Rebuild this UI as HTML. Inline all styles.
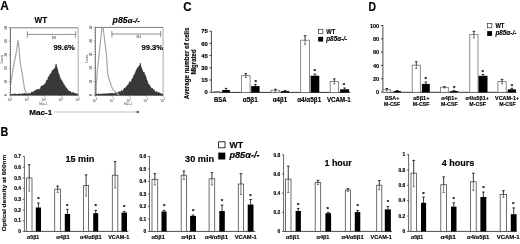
<!DOCTYPE html><html><head><meta charset="utf-8"><style>html,body{margin:0;padding:0;background:#fff;}svg{display:block;}</style></head><body>
<svg width="520" height="244" viewBox="0 0 520 244" font-family='"Liberation Sans", Arial, sans-serif'>
<style>text[font-weight="bold"]{stroke:#000;stroke-width:0.15px;}</style>
<rect width="520" height="244" fill="#fff"/>
<text x="0.2" y="10.4" font-size="12" font-weight="bold" text-anchor="start" fill="#000" textLength="8.6" lengthAdjust="spacingAndGlyphs">A</text>
<text x="183.3" y="10.9" font-size="12" font-weight="bold" text-anchor="start" fill="#000" textLength="8.3" lengthAdjust="spacingAndGlyphs">C</text>
<text x="368.6" y="10.6" font-size="12" font-weight="bold" text-anchor="start" fill="#000" textLength="7.5" lengthAdjust="spacingAndGlyphs">D</text>
<text x="0.6" y="136" font-size="12" font-weight="bold" text-anchor="start" fill="#000" textLength="7.8" lengthAdjust="spacingAndGlyphs">B</text>
<line x1="8.9" y1="95.1" x2="10.5" y2="95.1" stroke="#333" stroke-width="0.6"/>
<line x1="9.5" y1="92.408" x2="10.5" y2="92.408" stroke="#333" stroke-width="0.55"/>
<line x1="9.5" y1="89.716" x2="10.5" y2="89.716" stroke="#333" stroke-width="0.55"/>
<line x1="9.5" y1="87.024" x2="10.5" y2="87.024" stroke="#333" stroke-width="0.55"/>
<line x1="9.5" y1="84.332" x2="10.5" y2="84.332" stroke="#333" stroke-width="0.55"/>
<text x="5.9" y="95.1" font-size="3.2" fill="#333" text-anchor="middle" transform="rotate(-90 5.9 95.1)" dy="1.1">0</text>
<line x1="8.9" y1="81.64" x2="10.5" y2="81.64" stroke="#333" stroke-width="0.6"/>
<line x1="9.5" y1="78.94800000000001" x2="10.5" y2="78.94800000000001" stroke="#333" stroke-width="0.55"/>
<line x1="9.5" y1="76.256" x2="10.5" y2="76.256" stroke="#333" stroke-width="0.55"/>
<line x1="9.5" y1="73.56400000000001" x2="10.5" y2="73.56400000000001" stroke="#333" stroke-width="0.55"/>
<line x1="9.5" y1="70.872" x2="10.5" y2="70.872" stroke="#333" stroke-width="0.55"/>
<text x="5.9" y="81.64" font-size="3.2" fill="#333" text-anchor="middle" transform="rotate(-90 5.9 81.64)" dy="1.1">10</text>
<line x1="8.9" y1="68.17999999999999" x2="10.5" y2="68.17999999999999" stroke="#333" stroke-width="0.6"/>
<line x1="9.5" y1="65.488" x2="10.5" y2="65.488" stroke="#333" stroke-width="0.55"/>
<line x1="9.5" y1="62.79599999999999" x2="10.5" y2="62.79599999999999" stroke="#333" stroke-width="0.55"/>
<line x1="9.5" y1="60.10399999999999" x2="10.5" y2="60.10399999999999" stroke="#333" stroke-width="0.55"/>
<line x1="9.5" y1="57.41199999999999" x2="10.5" y2="57.41199999999999" stroke="#333" stroke-width="0.55"/>
<text x="5.9" y="68.17999999999999" font-size="3.2" fill="#333" text-anchor="middle" transform="rotate(-90 5.9 68.17999999999999)" dy="1.1">20</text>
<line x1="8.9" y1="54.72" x2="10.5" y2="54.72" stroke="#333" stroke-width="0.6"/>
<line x1="9.5" y1="52.028" x2="10.5" y2="52.028" stroke="#333" stroke-width="0.55"/>
<line x1="9.5" y1="49.336" x2="10.5" y2="49.336" stroke="#333" stroke-width="0.55"/>
<line x1="9.5" y1="46.644" x2="10.5" y2="46.644" stroke="#333" stroke-width="0.55"/>
<line x1="9.5" y1="43.952" x2="10.5" y2="43.952" stroke="#333" stroke-width="0.55"/>
<text x="5.9" y="54.72" font-size="3.2" fill="#333" text-anchor="middle" transform="rotate(-90 5.9 54.72)" dy="1.1">30</text>
<line x1="8.9" y1="41.26" x2="10.5" y2="41.26" stroke="#333" stroke-width="0.6"/>
<line x1="9.5" y1="38.568" x2="10.5" y2="38.568" stroke="#333" stroke-width="0.55"/>
<line x1="9.5" y1="35.876" x2="10.5" y2="35.876" stroke="#333" stroke-width="0.55"/>
<line x1="9.5" y1="33.184" x2="10.5" y2="33.184" stroke="#333" stroke-width="0.55"/>
<line x1="9.5" y1="30.491999999999997" x2="10.5" y2="30.491999999999997" stroke="#333" stroke-width="0.55"/>
<text x="5.9" y="41.26" font-size="3.2" fill="#333" text-anchor="middle" transform="rotate(-90 5.9 41.26)" dy="1.1">40</text>
<line x1="8.9" y1="27.799999999999997" x2="10.5" y2="27.799999999999997" stroke="#333" stroke-width="0.6"/>
<text x="5.9" y="27.799999999999997" font-size="3.2" fill="#333" text-anchor="middle" transform="rotate(-90 5.9 27.799999999999997)" dy="1.1">50</text>
<text x="1.9000000000000004" y="59.3" font-size="3.4" fill="#444" text-anchor="middle" transform="rotate(-90 1.9000000000000004 59.3)" dy="1.1" textLength="8.6" lengthAdjust="spacingAndGlyphs">Counts</text>
<line x1="10.5" y1="95.1" x2="10.5" y2="96.69999999999999" stroke="#444" stroke-width="0.5"/>
<line x1="15.594932676612881" y1="95.1" x2="15.594932676612881" y2="95.89999999999999" stroke="#444" stroke-width="0.35"/>
<line x1="18.575277236130287" y1="95.1" x2="18.575277236130287" y2="95.89999999999999" stroke="#444" stroke-width="0.35"/>
<line x1="20.689865353225763" y1="95.1" x2="20.689865353225763" y2="95.89999999999999" stroke="#444" stroke-width="0.35"/>
<line x1="22.33006732338712" y1="95.1" x2="22.33006732338712" y2="95.89999999999999" stroke="#444" stroke-width="0.35"/>
<line x1="23.670209912743168" y1="95.1" x2="23.670209912743168" y2="95.89999999999999" stroke="#444" stroke-width="0.35"/>
<line x1="24.803284327241297" y1="95.1" x2="24.803284327241297" y2="95.89999999999999" stroke="#444" stroke-width="0.35"/>
<line x1="25.784798029838647" y1="95.1" x2="25.784798029838647" y2="95.89999999999999" stroke="#444" stroke-width="0.35"/>
<line x1="26.650554472260573" y1="95.1" x2="26.650554472260573" y2="95.89999999999999" stroke="#444" stroke-width="0.35"/>
<text x="9.9" y="101.39999999999999" font-size="4.0" fill="#333" text-anchor="middle" textLength="4.6" lengthAdjust="spacingAndGlyphs">10<tspan font-size="2.6" dy="-1.8">0</tspan></text>
<line x1="27.425" y1="95.1" x2="27.425" y2="96.69999999999999" stroke="#444" stroke-width="0.5"/>
<line x1="32.51993267661288" y1="95.1" x2="32.51993267661288" y2="95.89999999999999" stroke="#444" stroke-width="0.35"/>
<line x1="35.50027723613029" y1="95.1" x2="35.50027723613029" y2="95.89999999999999" stroke="#444" stroke-width="0.35"/>
<line x1="37.61486535322577" y1="95.1" x2="37.61486535322577" y2="95.89999999999999" stroke="#444" stroke-width="0.35"/>
<line x1="39.255067323387124" y1="95.1" x2="39.255067323387124" y2="95.89999999999999" stroke="#444" stroke-width="0.35"/>
<line x1="40.59520991274317" y1="95.1" x2="40.59520991274317" y2="95.89999999999999" stroke="#444" stroke-width="0.35"/>
<line x1="41.7282843272413" y1="95.1" x2="41.7282843272413" y2="95.89999999999999" stroke="#444" stroke-width="0.35"/>
<line x1="42.709798029838645" y1="95.1" x2="42.709798029838645" y2="95.89999999999999" stroke="#444" stroke-width="0.35"/>
<line x1="43.57555447226058" y1="95.1" x2="43.57555447226058" y2="95.89999999999999" stroke="#444" stroke-width="0.35"/>
<text x="26.825" y="101.39999999999999" font-size="4.0" fill="#333" text-anchor="middle" textLength="4.6" lengthAdjust="spacingAndGlyphs">10<tspan font-size="2.6" dy="-1.8">1</tspan></text>
<line x1="44.35" y1="95.1" x2="44.35" y2="96.69999999999999" stroke="#444" stroke-width="0.5"/>
<line x1="49.444932676612886" y1="95.1" x2="49.444932676612886" y2="95.89999999999999" stroke="#444" stroke-width="0.35"/>
<line x1="52.425277236130285" y1="95.1" x2="52.425277236130285" y2="95.89999999999999" stroke="#444" stroke-width="0.35"/>
<line x1="54.539865353225764" y1="95.1" x2="54.539865353225764" y2="95.89999999999999" stroke="#444" stroke-width="0.35"/>
<line x1="56.18006732338712" y1="95.1" x2="56.18006732338712" y2="95.89999999999999" stroke="#444" stroke-width="0.35"/>
<line x1="57.52020991274317" y1="95.1" x2="57.52020991274317" y2="95.89999999999999" stroke="#444" stroke-width="0.35"/>
<line x1="58.653284327241295" y1="95.1" x2="58.653284327241295" y2="95.89999999999999" stroke="#444" stroke-width="0.35"/>
<line x1="59.63479802983865" y1="95.1" x2="59.63479802983865" y2="95.89999999999999" stroke="#444" stroke-width="0.35"/>
<line x1="60.500554472260575" y1="95.1" x2="60.500554472260575" y2="95.89999999999999" stroke="#444" stroke-width="0.35"/>
<text x="43.75" y="101.39999999999999" font-size="4.0" fill="#333" text-anchor="middle" textLength="4.6" lengthAdjust="spacingAndGlyphs">10<tspan font-size="2.6" dy="-1.8">2</tspan></text>
<line x1="61.275000000000006" y1="95.1" x2="61.275000000000006" y2="96.69999999999999" stroke="#444" stroke-width="0.5"/>
<line x1="66.36993267661289" y1="95.1" x2="66.36993267661289" y2="95.89999999999999" stroke="#444" stroke-width="0.35"/>
<line x1="69.3502772361303" y1="95.1" x2="69.3502772361303" y2="95.89999999999999" stroke="#444" stroke-width="0.35"/>
<line x1="71.46486535322578" y1="95.1" x2="71.46486535322578" y2="95.89999999999999" stroke="#444" stroke-width="0.35"/>
<line x1="73.10506732338712" y1="95.1" x2="73.10506732338712" y2="95.89999999999999" stroke="#444" stroke-width="0.35"/>
<line x1="74.44520991274318" y1="95.1" x2="74.44520991274318" y2="95.89999999999999" stroke="#444" stroke-width="0.35"/>
<line x1="75.5782843272413" y1="95.1" x2="75.5782843272413" y2="95.89999999999999" stroke="#444" stroke-width="0.35"/>
<line x1="76.55979802983865" y1="95.1" x2="76.55979802983865" y2="95.89999999999999" stroke="#444" stroke-width="0.35"/>
<line x1="77.42555447226059" y1="95.1" x2="77.42555447226059" y2="95.89999999999999" stroke="#444" stroke-width="0.35"/>
<text x="60.675000000000004" y="101.39999999999999" font-size="4.0" fill="#333" text-anchor="middle" textLength="4.6" lengthAdjust="spacingAndGlyphs">10<tspan font-size="2.6" dy="-1.8">3</tspan></text>
<line x1="78.2" y1="95.1" x2="78.2" y2="96.69999999999999" stroke="#444" stroke-width="0.5"/>
<text x="77.60000000000001" y="101.39999999999999" font-size="4.0" fill="#333" text-anchor="middle" textLength="4.6" lengthAdjust="spacingAndGlyphs">10<tspan font-size="2.6" dy="-1.8">4</tspan></text>
<text x="43.35" y="104.89999999999999" font-size="3.2" fill="#444" text-anchor="middle" textLength="8.4" lengthAdjust="spacingAndGlyphs">Mac-1</text>
<polyline points="10.8,84 11.2,80 11.7,77.3 12.6,72.4 13.9,64.2 15.6,56 16.3,52 17.1,47.7 17.5,43.5 18,40 18.5,44 19.1,47.7 19.6,56 20.4,64 22,72.4 23.2,80 24.4,88 26,92.5 28,94.8" fill="none" stroke="#a8a8a8" stroke-width="1.25"/>
<polygon points="11.0,95.0 11.0,94.26 11.55,94.51 12.1,94.32 12.65,94.51 13.2,94.5 13.75,93.92 14.3,93.83 14.85,94.63 15.4,94.01 15.95,93.95 16.5,94.7 17.05,94.13 17.6,94.49 18.15,94.08 18.7,94.22 19.25,93.66 19.8,94.16 20.35,94.4 20.9,93.98 21.45,94.2 22.0,94.1 22.55,93.36 23.1,94.15 23.65,93.93 24.2,93.55 24.75,93.19 25.3,94.18 25.85,93.67 26.4,93.95 26.95,94.13 27.5,93.9 28.05,94.13 28.6,93.37 29.15,93.84 29.7,93.27 30.25,93.88 30.8,93.71 31.35,92.27 31.9,92.04 32.45,91.89 33.0,93.01 33.55,91.72 34.1,91.77 34.65,90.71 35.2,90.83 35.75,90.19 36.3,89.68 36.85,89.82 37.4,89.52 37.95,90.03 38.5,89.24 39.05,89.58 39.6,89.15 40.15,89.03 40.7,87.71 41.25,85.94 41.8,86.54 42.35,85.47 42.9,85.87 43.45,85.62 44.0,85.51 44.55,83.76 45.1,84.65 45.65,83.25 46.2,81.77 46.75,80.01 47.3,80.43 47.85,79.48 48.4,76.58 48.95,77.55 49.5,75.82 50.05,74.35 50.6,73.73 51.15,73.34 51.7,72.76 52.25,70.52 52.8,71.43 53.35,69.43 53.9,70.36 54.45,68.55 55.0,68.46 55.55,66.37 56.1,64.1 56.65,67.05 57.2,68.04 57.75,70.32 58.3,73.45 58.85,73.77 59.4,75.59 59.95,77.48 60.5,79.27 61.05,79.44 61.6,79.9 62.15,82.62 62.7,81.81 63.25,83.86 63.8,84.81 64.35,84.87 64.9,86.14 65.45,86.91 66.0,87.85 66.55,88.22 67.1,88.69 67.65,89.66 68.2,91.26 68.75,90.79 69.3,91.06 69.85,92.1 70.4,91.54 70.95,91.87 71.5,93.27 72.05,92.67 72.6,92.91 73.15,92.29 73.7,93.11 74.25,93.51 74.8,92.93 75.35,93.85 75.9,94.02 76.45,93.53 77.0,94.33 77.55,94.35 78.0,95.0" fill="#383838" stroke="#1e1e1e" stroke-width="0.6" stroke-linejoin="round"/>
<line x1="78.2" y1="27.8" x2="78.2" y2="95.1" stroke="#888" stroke-width="0.7"/>
<path d="M78.2,27.8 H10.5 V95.1 H78.2" fill="none" stroke="#444" stroke-width="0.7"/>
<line x1="27.4" y1="34.4" x2="75.7" y2="34.4" stroke="#444" stroke-width="0.6"/>
<line x1="27.4" y1="31.2" x2="27.4" y2="37.6" stroke="#444" stroke-width="0.6"/>
<line x1="75.7" y1="31.2" x2="75.7" y2="37.6" stroke="#444" stroke-width="0.6"/>
<text x="51.849999999999994" y="38.6" font-size="3.6" fill="#333" textLength="4.8" lengthAdjust="spacingAndGlyphs">M1</text>
<text x="53.4" y="50.2" font-size="7.8" font-weight="bold" text-anchor="start" fill="#000" textLength="21.4" lengthAdjust="spacingAndGlyphs">99.6%</text>
<text x="34.6" y="23.0" font-size="9.4" font-weight="bold" text-anchor="start" fill="#000" textLength="12.6" lengthAdjust="spacingAndGlyphs">WT</text>
<line x1="93.80000000000001" y1="95.2" x2="95.4" y2="95.2" stroke="#333" stroke-width="0.6"/>
<line x1="94.4" y1="92.488" x2="95.4" y2="92.488" stroke="#333" stroke-width="0.55"/>
<line x1="94.4" y1="89.776" x2="95.4" y2="89.776" stroke="#333" stroke-width="0.55"/>
<line x1="94.4" y1="87.06400000000001" x2="95.4" y2="87.06400000000001" stroke="#333" stroke-width="0.55"/>
<line x1="94.4" y1="84.352" x2="95.4" y2="84.352" stroke="#333" stroke-width="0.55"/>
<text x="90.80000000000001" y="95.2" font-size="3.2" fill="#333" text-anchor="middle" transform="rotate(-90 90.80000000000001 95.2)" dy="1.1">0</text>
<line x1="93.80000000000001" y1="81.64" x2="95.4" y2="81.64" stroke="#333" stroke-width="0.6"/>
<line x1="94.4" y1="78.928" x2="95.4" y2="78.928" stroke="#333" stroke-width="0.55"/>
<line x1="94.4" y1="76.216" x2="95.4" y2="76.216" stroke="#333" stroke-width="0.55"/>
<line x1="94.4" y1="73.504" x2="95.4" y2="73.504" stroke="#333" stroke-width="0.55"/>
<line x1="94.4" y1="70.792" x2="95.4" y2="70.792" stroke="#333" stroke-width="0.55"/>
<text x="90.80000000000001" y="81.64" font-size="3.2" fill="#333" text-anchor="middle" transform="rotate(-90 90.80000000000001 81.64)" dy="1.1">10</text>
<line x1="93.80000000000001" y1="68.08" x2="95.4" y2="68.08" stroke="#333" stroke-width="0.6"/>
<line x1="94.4" y1="65.368" x2="95.4" y2="65.368" stroke="#333" stroke-width="0.55"/>
<line x1="94.4" y1="62.656" x2="95.4" y2="62.656" stroke="#333" stroke-width="0.55"/>
<line x1="94.4" y1="59.943999999999996" x2="95.4" y2="59.943999999999996" stroke="#333" stroke-width="0.55"/>
<line x1="94.4" y1="57.232" x2="95.4" y2="57.232" stroke="#333" stroke-width="0.55"/>
<text x="90.80000000000001" y="68.08" font-size="3.2" fill="#333" text-anchor="middle" transform="rotate(-90 90.80000000000001 68.08)" dy="1.1">20</text>
<line x1="93.80000000000001" y1="54.519999999999996" x2="95.4" y2="54.519999999999996" stroke="#333" stroke-width="0.6"/>
<line x1="94.4" y1="51.80799999999999" x2="95.4" y2="51.80799999999999" stroke="#333" stroke-width="0.55"/>
<line x1="94.4" y1="49.096" x2="95.4" y2="49.096" stroke="#333" stroke-width="0.55"/>
<line x1="94.4" y1="46.38399999999999" x2="95.4" y2="46.38399999999999" stroke="#333" stroke-width="0.55"/>
<line x1="94.4" y1="43.672" x2="95.4" y2="43.672" stroke="#333" stroke-width="0.55"/>
<text x="90.80000000000001" y="54.519999999999996" font-size="3.2" fill="#333" text-anchor="middle" transform="rotate(-90 90.80000000000001 54.519999999999996)" dy="1.1">30</text>
<line x1="93.80000000000001" y1="40.959999999999994" x2="95.4" y2="40.959999999999994" stroke="#333" stroke-width="0.6"/>
<line x1="94.4" y1="38.24799999999999" x2="95.4" y2="38.24799999999999" stroke="#333" stroke-width="0.55"/>
<line x1="94.4" y1="35.535999999999994" x2="95.4" y2="35.535999999999994" stroke="#333" stroke-width="0.55"/>
<line x1="94.4" y1="32.82399999999999" x2="95.4" y2="32.82399999999999" stroke="#333" stroke-width="0.55"/>
<line x1="94.4" y1="30.11199999999999" x2="95.4" y2="30.11199999999999" stroke="#333" stroke-width="0.55"/>
<text x="90.80000000000001" y="40.959999999999994" font-size="3.2" fill="#333" text-anchor="middle" transform="rotate(-90 90.80000000000001 40.959999999999994)" dy="1.1">40</text>
<line x1="93.80000000000001" y1="27.39999999999999" x2="95.4" y2="27.39999999999999" stroke="#333" stroke-width="0.6"/>
<text x="90.80000000000001" y="27.39999999999999" font-size="3.2" fill="#333" text-anchor="middle" transform="rotate(-90 90.80000000000001 27.39999999999999)" dy="1.1">50</text>
<text x="86.80000000000001" y="58.9" font-size="3.4" fill="#444" text-anchor="middle" transform="rotate(-90 86.80000000000001 58.9)" dy="1.1" textLength="8.6" lengthAdjust="spacingAndGlyphs">Counts</text>
<line x1="95.4" y1="95.2" x2="95.4" y2="96.8" stroke="#444" stroke-width="0.5"/>
<line x1="100.49493267661289" y1="95.2" x2="100.49493267661289" y2="96.0" stroke="#444" stroke-width="0.35"/>
<line x1="103.4752772361303" y1="95.2" x2="103.4752772361303" y2="96.0" stroke="#444" stroke-width="0.35"/>
<line x1="105.58986535322578" y1="95.2" x2="105.58986535322578" y2="96.0" stroke="#444" stroke-width="0.35"/>
<line x1="107.23006732338712" y1="95.2" x2="107.23006732338712" y2="96.0" stroke="#444" stroke-width="0.35"/>
<line x1="108.57020991274317" y1="95.2" x2="108.57020991274317" y2="96.0" stroke="#444" stroke-width="0.35"/>
<line x1="109.7032843272413" y1="95.2" x2="109.7032843272413" y2="96.0" stroke="#444" stroke-width="0.35"/>
<line x1="110.68479802983865" y1="95.2" x2="110.68479802983865" y2="96.0" stroke="#444" stroke-width="0.35"/>
<line x1="111.55055447226057" y1="95.2" x2="111.55055447226057" y2="96.0" stroke="#444" stroke-width="0.35"/>
<text x="94.80000000000001" y="101.5" font-size="4.0" fill="#333" text-anchor="middle" textLength="4.6" lengthAdjust="spacingAndGlyphs">10<tspan font-size="2.6" dy="-1.8">0</tspan></text>
<line x1="112.325" y1="95.2" x2="112.325" y2="96.8" stroke="#444" stroke-width="0.5"/>
<line x1="117.41993267661289" y1="95.2" x2="117.41993267661289" y2="96.0" stroke="#444" stroke-width="0.35"/>
<line x1="120.4002772361303" y1="95.2" x2="120.4002772361303" y2="96.0" stroke="#444" stroke-width="0.35"/>
<line x1="122.51486535322576" y1="95.2" x2="122.51486535322576" y2="96.0" stroke="#444" stroke-width="0.35"/>
<line x1="124.15506732338712" y1="95.2" x2="124.15506732338712" y2="96.0" stroke="#444" stroke-width="0.35"/>
<line x1="125.49520991274316" y1="95.2" x2="125.49520991274316" y2="96.0" stroke="#444" stroke-width="0.35"/>
<line x1="126.62828432724129" y1="95.2" x2="126.62828432724129" y2="96.0" stroke="#444" stroke-width="0.35"/>
<line x1="127.60979802983864" y1="95.2" x2="127.60979802983864" y2="96.0" stroke="#444" stroke-width="0.35"/>
<line x1="128.47555447226057" y1="95.2" x2="128.47555447226057" y2="96.0" stroke="#444" stroke-width="0.35"/>
<text x="111.72500000000001" y="101.5" font-size="4.0" fill="#333" text-anchor="middle" textLength="4.6" lengthAdjust="spacingAndGlyphs">10<tspan font-size="2.6" dy="-1.8">1</tspan></text>
<line x1="129.25" y1="95.2" x2="129.25" y2="96.8" stroke="#444" stroke-width="0.5"/>
<line x1="134.34493267661287" y1="95.2" x2="134.34493267661287" y2="96.0" stroke="#444" stroke-width="0.35"/>
<line x1="137.3252772361303" y1="95.2" x2="137.3252772361303" y2="96.0" stroke="#444" stroke-width="0.35"/>
<line x1="139.43986535322577" y1="95.2" x2="139.43986535322577" y2="96.0" stroke="#444" stroke-width="0.35"/>
<line x1="141.0800673233871" y1="95.2" x2="141.0800673233871" y2="96.0" stroke="#444" stroke-width="0.35"/>
<line x1="142.42020991274316" y1="95.2" x2="142.42020991274316" y2="96.0" stroke="#444" stroke-width="0.35"/>
<line x1="143.5532843272413" y1="95.2" x2="143.5532843272413" y2="96.0" stroke="#444" stroke-width="0.35"/>
<line x1="144.53479802983864" y1="95.2" x2="144.53479802983864" y2="96.0" stroke="#444" stroke-width="0.35"/>
<line x1="145.40055447226058" y1="95.2" x2="145.40055447226058" y2="96.0" stroke="#444" stroke-width="0.35"/>
<text x="128.65" y="101.5" font-size="4.0" fill="#333" text-anchor="middle" textLength="4.6" lengthAdjust="spacingAndGlyphs">10<tspan font-size="2.6" dy="-1.8">2</tspan></text>
<line x1="146.175" y1="95.2" x2="146.175" y2="96.8" stroke="#444" stroke-width="0.5"/>
<line x1="151.26993267661288" y1="95.2" x2="151.26993267661288" y2="96.0" stroke="#444" stroke-width="0.35"/>
<line x1="154.2502772361303" y1="95.2" x2="154.2502772361303" y2="96.0" stroke="#444" stroke-width="0.35"/>
<line x1="156.36486535322578" y1="95.2" x2="156.36486535322578" y2="96.0" stroke="#444" stroke-width="0.35"/>
<line x1="158.00506732338712" y1="95.2" x2="158.00506732338712" y2="96.0" stroke="#444" stroke-width="0.35"/>
<line x1="159.34520991274317" y1="95.2" x2="159.34520991274317" y2="96.0" stroke="#444" stroke-width="0.35"/>
<line x1="160.4782843272413" y1="95.2" x2="160.4782843272413" y2="96.0" stroke="#444" stroke-width="0.35"/>
<line x1="161.45979802983865" y1="95.2" x2="161.45979802983865" y2="96.0" stroke="#444" stroke-width="0.35"/>
<line x1="162.3255544722606" y1="95.2" x2="162.3255544722606" y2="96.0" stroke="#444" stroke-width="0.35"/>
<text x="145.57500000000002" y="101.5" font-size="4.0" fill="#333" text-anchor="middle" textLength="4.6" lengthAdjust="spacingAndGlyphs">10<tspan font-size="2.6" dy="-1.8">3</tspan></text>
<line x1="163.1" y1="95.2" x2="163.1" y2="96.8" stroke="#444" stroke-width="0.5"/>
<text x="162.5" y="101.5" font-size="4.0" fill="#333" text-anchor="middle" textLength="4.6" lengthAdjust="spacingAndGlyphs">10<tspan font-size="2.6" dy="-1.8">4</tspan></text>
<text x="128.25" y="105.0" font-size="3.2" fill="#444" text-anchor="middle" textLength="8.4" lengthAdjust="spacingAndGlyphs">Mac-1</text>
<polyline points="96.1,95 96.3,85 97,75 97.6,68 98.4,62 99.3,52 100.4,42 101.3,34 102.1,27.4" fill="none" stroke="#a8a8a8" stroke-width="1.25"/>
<polygon points="95.8,95.1 95.8,94.58 96.35,94.24 96.9,94.57 97.45,94.58 98.0,93.82 98.55,93.83 99.1,94.45 99.65,94.73 100.2,93.95 100.75,94.14 101.3,94.27 101.85,93.94 102.4,93.96 102.95,93.88 103.5,93.92 104.05,94.15 104.6,93.79 105.15,93.85 105.7,94.28 106.25,93.37 106.8,93.98 107.35,94.15 107.9,93.6 108.45,93.46 109.0,94.15 109.55,93.41 110.1,93.31 110.65,93.59 111.2,93.9 111.75,93.09 112.3,93.33 112.85,93.29 113.4,93.92 113.95,93.32 114.5,93.85 115.05,92.81 115.6,92.93 116.15,93.29 116.7,93.55 117.25,92.74 117.8,92.24 118.35,91.92 118.9,92.4 119.45,91.52 120.0,92.49 120.55,92.36 121.1,90.72 121.65,90.65 122.2,91.47 122.75,90.65 123.3,90.62 123.85,89.09 124.4,88.15 124.95,88.12 125.5,88.91 126.05,86.98 126.6,86.49 127.15,85.98 127.7,85.14 128.25,84.2 128.8,84.71 129.35,82.32 129.9,81.41 130.45,83.11 131.0,81.91 131.55,81.07 132.1,78.66 132.65,78.88 133.2,77.81 133.75,75.1 134.3,75.23 134.85,74.24 135.4,72.61 135.95,71.3 136.5,69.83 137.05,69.05 137.6,68.05 138.15,66.93 138.7,67.35 139.25,65.63 139.8,65.92 140.35,63.19 140.9,66.67 141.45,67.81 142.0,69.52 142.55,70.58 143.1,71.96 143.65,72.56 144.2,72.41 144.75,75.35 145.3,75.25 145.85,76.92 146.4,79.14 146.95,80.34 147.5,81.64 148.05,84.17 148.6,84.29 149.15,84.54 149.7,85.18 150.25,87.38 150.8,87.2 151.35,88.68 151.9,88.2 152.45,88.33 153.0,89.63 153.55,90.79 154.1,89.6 154.65,91.45 155.2,92.08 155.75,92.12 156.3,92.44 156.85,91.17 157.4,92.67 157.95,93.29 158.5,92.18 159.05,92.77 159.6,93.01 160.15,93.58 160.7,93.61 161.25,93.84 161.8,94.36 162.35,93.67 162.9,95.1" fill="#383838" stroke="#1e1e1e" stroke-width="0.6" stroke-linejoin="round"/>
<line x1="163.1" y1="27.4" x2="163.1" y2="95.2" stroke="#888" stroke-width="0.7"/>
<path d="M163.1,27.4 H95.4 V95.2 H163.1" fill="none" stroke="#444" stroke-width="0.7"/>
<line x1="111.9" y1="34.0" x2="160.7" y2="34.0" stroke="#444" stroke-width="0.6"/>
<line x1="111.9" y1="30.8" x2="111.9" y2="37.2" stroke="#444" stroke-width="0.6"/>
<line x1="160.7" y1="30.8" x2="160.7" y2="37.2" stroke="#444" stroke-width="0.6"/>
<text x="136.60000000000002" y="38.2" font-size="3.6" fill="#333" textLength="4.8" lengthAdjust="spacingAndGlyphs">M1</text>
<text x="141.5" y="49.8" font-size="7.8" font-weight="bold" text-anchor="start" fill="#000" textLength="21.4" lengthAdjust="spacingAndGlyphs">99.3%</text>
<polyline points="103.1,27.4 104,35 105.2,45 106.2,52 106.8,60 107.4,70 108.1,76 109.7,81 111.4,86 112.6,89 115,91.6 117.1,93.2 119,95" fill="none" stroke="#a8a8a8" stroke-width="1.25"/>
<text x="112.6" y="22.9" font-size="9" font-weight="bold" font-style="italic" fill="#000" textLength="27.2" lengthAdjust="spacingAndGlyphs">p85<tspan font-size="8">α-/-</tspan></text>
<text x="29.2" y="115.2" font-size="7.8" font-weight="bold" text-anchor="start" fill="#000" textLength="23" lengthAdjust="spacingAndGlyphs">Mac-1</text>
<line x1="54.6" y1="112" x2="137.5" y2="112" stroke="#888" stroke-width="0.55"/>
<polygon points="136.8,110.8 139.8,112 136.8,113.2" fill="#222"/>
<line x1="211.4" y1="30.9" x2="211.4" y2="92.2" stroke="#000" stroke-width="0.7"/>
<line x1="209.4" y1="92.2" x2="211.4" y2="92.2" stroke="#000" stroke-width="0.7"/>
<text x="207.8" y="94.36" font-size="6.0" font-weight="bold" text-anchor="end" fill="#000" textLength="3.3" lengthAdjust="spacingAndGlyphs">0</text>
<line x1="209.4" y1="80.0" x2="211.4" y2="80.0" stroke="#000" stroke-width="0.7"/>
<text x="207.8" y="82.16" font-size="6.0" font-weight="bold" text-anchor="end" fill="#000" textLength="6.6" lengthAdjust="spacingAndGlyphs">15</text>
<line x1="209.4" y1="67.80000000000001" x2="211.4" y2="67.80000000000001" stroke="#000" stroke-width="0.7"/>
<text x="207.8" y="69.96000000000001" font-size="6.0" font-weight="bold" text-anchor="end" fill="#000" textLength="6.6" lengthAdjust="spacingAndGlyphs">30</text>
<line x1="209.4" y1="55.6" x2="211.4" y2="55.6" stroke="#000" stroke-width="0.7"/>
<text x="207.8" y="57.760000000000005" font-size="6.0" font-weight="bold" text-anchor="end" fill="#000" textLength="6.6" lengthAdjust="spacingAndGlyphs">45</text>
<line x1="209.4" y1="43.400000000000006" x2="211.4" y2="43.400000000000006" stroke="#000" stroke-width="0.7"/>
<text x="207.8" y="45.56" font-size="6.0" font-weight="bold" text-anchor="end" fill="#000" textLength="6.6" lengthAdjust="spacingAndGlyphs">60</text>
<line x1="209.4" y1="31.200000000000003" x2="211.4" y2="31.200000000000003" stroke="#000" stroke-width="0.7"/>
<text x="207.8" y="33.36" font-size="6.0" font-weight="bold" text-anchor="end" fill="#000" textLength="6.6" lengthAdjust="spacingAndGlyphs">75</text>
<line x1="211.4" y1="92.4" x2="350.2" y2="92.4" stroke="#000" stroke-width="0.8"/>
<rect x="214" y="91.6" width="5.800000000000011" height="0.8000000000000114" fill="#fff" stroke="#707070" stroke-width="0.8"/>
<rect x="222.2" y="90.0" width="7.700000000000017" height="2.4000000000000057" fill="#000"/>
<line x1="226.05" y1="88.4" x2="226.05" y2="90.0" stroke="#000" stroke-width="0.8"/>
<line x1="224.75" y1="88.4" x2="227.35000000000002" y2="88.4" stroke="#000" stroke-width="0.8"/>
<rect x="241.4" y="75.7" width="8.699999999999989" height="16.700000000000003" fill="#fff" stroke="#707070" stroke-width="0.8"/>
<line x1="245.75" y1="75.7" x2="245.75" y2="77.5" stroke="#444" stroke-width="0.7"/>
<line x1="244.71" y1="77.5" x2="246.79" y2="77.5" stroke="#444" stroke-width="0.7"/>
<line x1="245.75" y1="73.6" x2="245.75" y2="75.7" stroke="#000" stroke-width="0.8"/>
<line x1="244.45" y1="73.6" x2="247.05" y2="73.6" stroke="#000" stroke-width="0.8"/>
<rect x="251.2" y="86.1" width="8.400000000000034" height="6.300000000000011" fill="#000"/>
<line x1="255.4" y1="84.4" x2="255.4" y2="86.1" stroke="#000" stroke-width="0.8"/>
<line x1="254.1" y1="84.4" x2="256.7" y2="84.4" stroke="#000" stroke-width="0.8"/>
<text x="255.8" y="84.11" font-size="6.2" font-weight="bold" text-anchor="middle" fill="#000">*</text>
<rect x="271.1" y="90.2" width="8.599999999999966" height="2.200000000000003" fill="#fff" stroke="#707070" stroke-width="0.8"/>
<line x1="275.4" y1="90.2" x2="275.4" y2="91.2" stroke="#444" stroke-width="0.7"/>
<line x1="274.35999999999996" y1="91.2" x2="276.44" y2="91.2" stroke="#444" stroke-width="0.7"/>
<line x1="275.4" y1="89.2" x2="275.4" y2="90.2" stroke="#000" stroke-width="0.8"/>
<line x1="274.09999999999997" y1="89.2" x2="276.7" y2="89.2" stroke="#000" stroke-width="0.8"/>
<rect x="281.0" y="91.1" width="8.199999999999989" height="1.3000000000000114" fill="#000"/>
<line x1="285.1" y1="90.4" x2="285.1" y2="91.1" stroke="#000" stroke-width="0.8"/>
<line x1="283.8" y1="90.4" x2="286.40000000000003" y2="90.4" stroke="#000" stroke-width="0.8"/>
<rect x="300.7" y="40.2" width="8.699999999999989" height="52.2" fill="#fff" stroke="#707070" stroke-width="0.8"/>
<line x1="305.04999999999995" y1="40.2" x2="305.04999999999995" y2="44.3" stroke="#444" stroke-width="0.7"/>
<line x1="304.00999999999993" y1="44.3" x2="306.09" y2="44.3" stroke="#444" stroke-width="0.7"/>
<line x1="305.04999999999995" y1="35.7" x2="305.04999999999995" y2="40.2" stroke="#000" stroke-width="0.8"/>
<line x1="303.74999999999994" y1="35.7" x2="306.34999999999997" y2="35.7" stroke="#000" stroke-width="0.8"/>
<rect x="310.6" y="75.7" width="8.699999999999989" height="16.700000000000003" fill="#000"/>
<line x1="314.95000000000005" y1="74.0" x2="314.95000000000005" y2="75.7" stroke="#000" stroke-width="0.8"/>
<line x1="313.65000000000003" y1="74.0" x2="316.25000000000006" y2="74.0" stroke="#000" stroke-width="0.8"/>
<text x="314.7" y="73.31" font-size="6.2" font-weight="bold" text-anchor="middle" fill="#000">*</text>
<rect x="330.2" y="81.4" width="8.199999999999989" height="11.0" fill="#fff" stroke="#707070" stroke-width="0.8"/>
<line x1="334.29999999999995" y1="81.4" x2="334.29999999999995" y2="83.8" stroke="#444" stroke-width="0.7"/>
<line x1="333.25999999999993" y1="83.8" x2="335.34" y2="83.8" stroke="#444" stroke-width="0.7"/>
<line x1="334.29999999999995" y1="78.9" x2="334.29999999999995" y2="81.4" stroke="#000" stroke-width="0.8"/>
<line x1="332.99999999999994" y1="78.9" x2="335.59999999999997" y2="78.9" stroke="#000" stroke-width="0.8"/>
<rect x="340.1" y="89.3" width="9.0" height="3.1000000000000085" fill="#000"/>
<line x1="344.6" y1="88.0" x2="344.6" y2="89.3" stroke="#000" stroke-width="0.8"/>
<line x1="343.3" y1="88.0" x2="345.90000000000003" y2="88.0" stroke="#000" stroke-width="0.8"/>
<text x="343.9" y="87.31" font-size="6.2" font-weight="bold" text-anchor="middle" fill="#000">*</text>
<text x="214" y="102.0" font-size="6.6" font-weight="bold" text-anchor="start" fill="#000" textLength="12.4" lengthAdjust="spacingAndGlyphs">BSA</text>
<text x="242.8" y="102.0" font-size="6.6" font-weight="bold" text-anchor="start" fill="#000" textLength="15.0" lengthAdjust="spacingAndGlyphs">α5β1</text>
<text x="272.8" y="102.0" font-size="6.6" font-weight="bold" text-anchor="start" fill="#000" textLength="14.4" lengthAdjust="spacingAndGlyphs">α4β1</text>
<text x="297.2" y="102.0" font-size="6.6" font-weight="bold" text-anchor="start" fill="#000" textLength="24.0" lengthAdjust="spacingAndGlyphs">α4/α5β1</text>
<text x="327.0" y="102.0" font-size="6.6" font-weight="bold" text-anchor="start" fill="#000" textLength="23.7" lengthAdjust="spacingAndGlyphs">VCAM-1</text>
<rect x="318.5" y="29.3" width="4.4" height="4.3" fill="#fff" stroke="#333" stroke-width="0.7"/>
<text x="326.3" y="33.5" font-size="6.6" font-weight="bold" text-anchor="start" fill="#000" textLength="9.0" lengthAdjust="spacingAndGlyphs">WT</text>
<rect x="318.2" y="36.8" width="4.9" height="4.8" fill="#000"/>
<text x="326.2" y="40.9" font-size="6.4" font-weight="bold" font-style="italic" fill="#000" textLength="21" lengthAdjust="spacingAndGlyphs">p85<tspan>α-/-</tspan></text>
<text x="188.9" y="63.4" font-size="6.3" font-weight="bold" text-anchor="middle" transform="rotate(-90 188.9 63.4)" textLength="71.8" lengthAdjust="spacingAndGlyphs">Average number of cells</text>
<text x="196.3" y="62.0" font-size="6.3" font-weight="bold" text-anchor="middle" transform="rotate(-90 196.3 62.0)" textLength="25.2" lengthAdjust="spacingAndGlyphs">Migrated</text>
<line x1="382.9" y1="25.2" x2="382.9" y2="92.0" stroke="#000" stroke-width="0.7"/>
<line x1="380.9" y1="92.0" x2="382.9" y2="92.0" stroke="#000" stroke-width="0.7"/>
<text x="379.2" y="94.232" font-size="6.2" font-weight="bold" text-anchor="end" fill="#000" textLength="3.1" lengthAdjust="spacingAndGlyphs">0</text>
<line x1="380.9" y1="78.7" x2="382.9" y2="78.7" stroke="#000" stroke-width="0.7"/>
<text x="379.2" y="80.932" font-size="6.2" font-weight="bold" text-anchor="end" fill="#000" textLength="6.2" lengthAdjust="spacingAndGlyphs">20</text>
<line x1="380.9" y1="65.4" x2="382.9" y2="65.4" stroke="#000" stroke-width="0.7"/>
<text x="379.2" y="67.632" font-size="6.2" font-weight="bold" text-anchor="end" fill="#000" textLength="6.2" lengthAdjust="spacingAndGlyphs">40</text>
<line x1="380.9" y1="52.1" x2="382.9" y2="52.1" stroke="#000" stroke-width="0.7"/>
<text x="379.2" y="54.332" font-size="6.2" font-weight="bold" text-anchor="end" fill="#000" textLength="6.2" lengthAdjust="spacingAndGlyphs">60</text>
<line x1="380.9" y1="38.8" x2="382.9" y2="38.8" stroke="#000" stroke-width="0.7"/>
<text x="379.2" y="41.032" font-size="6.2" font-weight="bold" text-anchor="end" fill="#000" textLength="6.2" lengthAdjust="spacingAndGlyphs">80</text>
<line x1="380.9" y1="25.5" x2="382.9" y2="25.5" stroke="#000" stroke-width="0.7"/>
<text x="379.2" y="27.732" font-size="6.2" font-weight="bold" text-anchor="end" fill="#000" textLength="9.3" lengthAdjust="spacingAndGlyphs">100</text>
<line x1="382.9" y1="92.3" x2="516.4" y2="92.3" stroke="#000" stroke-width="0.8"/>
<rect x="383.0" y="89.7" width="7.600000000000023" height="2.5999999999999943" fill="#fff" stroke="#707070" stroke-width="0.8"/>
<line x1="386.8" y1="89.7" x2="386.8" y2="90.9" stroke="#444" stroke-width="0.7"/>
<line x1="385.76" y1="90.9" x2="387.84000000000003" y2="90.9" stroke="#444" stroke-width="0.7"/>
<line x1="386.8" y1="88.5" x2="386.8" y2="89.7" stroke="#000" stroke-width="0.8"/>
<line x1="385.5" y1="88.5" x2="388.1" y2="88.5" stroke="#000" stroke-width="0.8"/>
<rect x="393.7" y="91.0" width="7.100000000000023" height="1.2999999999999972" fill="#000"/>
<line x1="397.25" y1="90.5" x2="397.25" y2="91.0" stroke="#000" stroke-width="0.8"/>
<line x1="395.95" y1="90.5" x2="398.55" y2="90.5" stroke="#000" stroke-width="0.8"/>
<rect x="412.2" y="65.2" width="8.100000000000023" height="27.099999999999994" fill="#fff" stroke="#707070" stroke-width="0.8"/>
<line x1="416.25" y1="65.2" x2="416.25" y2="68.5" stroke="#444" stroke-width="0.7"/>
<line x1="415.21" y1="68.5" x2="417.29" y2="68.5" stroke="#444" stroke-width="0.7"/>
<line x1="416.25" y1="61.8" x2="416.25" y2="65.2" stroke="#000" stroke-width="0.8"/>
<line x1="414.95" y1="61.8" x2="417.55" y2="61.8" stroke="#000" stroke-width="0.8"/>
<rect x="421.9" y="83.9" width="7.900000000000034" height="8.399999999999991" fill="#000"/>
<line x1="425.85" y1="82.0" x2="425.85" y2="83.9" stroke="#000" stroke-width="0.8"/>
<line x1="424.55" y1="82.0" x2="427.15000000000003" y2="82.0" stroke="#000" stroke-width="0.8"/>
<text x="425.8" y="81.00999999999999" font-size="6.2" font-weight="bold" text-anchor="middle" fill="#000">*</text>
<rect x="440.6" y="87.3" width="7.699999999999989" height="5.0" fill="#fff" stroke="#707070" stroke-width="0.8"/>
<line x1="444.45000000000005" y1="87.3" x2="444.45000000000005" y2="88.0" stroke="#444" stroke-width="0.7"/>
<line x1="443.41" y1="88.0" x2="445.49000000000007" y2="88.0" stroke="#444" stroke-width="0.7"/>
<line x1="444.45000000000005" y1="86.6" x2="444.45000000000005" y2="87.3" stroke="#000" stroke-width="0.8"/>
<line x1="443.15000000000003" y1="86.6" x2="445.75000000000006" y2="86.6" stroke="#000" stroke-width="0.8"/>
<rect x="450.1" y="91.1" width="7.899999999999977" height="1.2000000000000028" fill="#000"/>
<line x1="454.05" y1="90.6" x2="454.05" y2="91.1" stroke="#000" stroke-width="0.8"/>
<line x1="452.75" y1="90.6" x2="455.35" y2="90.6" stroke="#000" stroke-width="0.8"/>
<text x="454.2" y="90.00999999999999" font-size="6.2" font-weight="bold" text-anchor="middle" fill="#000">*</text>
<rect x="469.8" y="34.7" width="8.199999999999989" height="57.599999999999994" fill="#fff" stroke="#707070" stroke-width="0.8"/>
<line x1="473.9" y1="34.7" x2="473.9" y2="38.0" stroke="#444" stroke-width="0.7"/>
<line x1="472.85999999999996" y1="38.0" x2="474.94" y2="38.0" stroke="#444" stroke-width="0.7"/>
<line x1="473.9" y1="31.3" x2="473.9" y2="34.7" stroke="#000" stroke-width="0.8"/>
<line x1="472.59999999999997" y1="31.3" x2="475.2" y2="31.3" stroke="#000" stroke-width="0.8"/>
<rect x="478.5" y="75.8" width="9.0" height="16.5" fill="#000"/>
<line x1="483.0" y1="74.5" x2="483.0" y2="75.8" stroke="#000" stroke-width="0.8"/>
<line x1="481.7" y1="74.5" x2="484.3" y2="74.5" stroke="#000" stroke-width="0.8"/>
<text x="482.6" y="73.71" font-size="6.2" font-weight="bold" text-anchor="middle" fill="#000">*</text>
<rect x="497.9" y="81.6" width="8.300000000000011" height="10.700000000000003" fill="#fff" stroke="#707070" stroke-width="0.8"/>
<line x1="502.04999999999995" y1="81.6" x2="502.04999999999995" y2="83.8" stroke="#444" stroke-width="0.7"/>
<line x1="501.00999999999993" y1="83.8" x2="503.09" y2="83.8" stroke="#444" stroke-width="0.7"/>
<line x1="502.04999999999995" y1="79.4" x2="502.04999999999995" y2="81.6" stroke="#000" stroke-width="0.8"/>
<line x1="500.74999999999994" y1="79.4" x2="503.34999999999997" y2="79.4" stroke="#000" stroke-width="0.8"/>
<rect x="507.8" y="89.3" width="8.099999999999966" height="3.0" fill="#000"/>
<line x1="511.85" y1="88.3" x2="511.85" y2="89.3" stroke="#000" stroke-width="0.8"/>
<line x1="510.55" y1="88.3" x2="513.15" y2="88.3" stroke="#000" stroke-width="0.8"/>
<text x="511.9" y="87.71" font-size="6.2" font-weight="bold" text-anchor="middle" fill="#000">*</text>
<text x="384.9" y="100.0" font-size="5.8" font-weight="bold" text-anchor="start" fill="#000" textLength="14.4" lengthAdjust="spacingAndGlyphs">BSA+</text>
<text x="384.0" y="106.2" font-size="5.8" font-weight="bold" text-anchor="start" fill="#000" textLength="16.0" lengthAdjust="spacingAndGlyphs">M-CSF</text>
<text x="413.2" y="100.0" font-size="5.8" font-weight="bold" text-anchor="start" fill="#000" textLength="16.2" lengthAdjust="spacingAndGlyphs">α5β1+</text>
<text x="412.8" y="106.2" font-size="5.8" font-weight="bold" text-anchor="start" fill="#000" textLength="16.6" lengthAdjust="spacingAndGlyphs">M-CSF</text>
<text x="441.3" y="100.0" font-size="5.8" font-weight="bold" text-anchor="start" fill="#000" textLength="16.2" lengthAdjust="spacingAndGlyphs">α4β1+</text>
<text x="441.0" y="106.2" font-size="5.8" font-weight="bold" text-anchor="start" fill="#000" textLength="16.6" lengthAdjust="spacingAndGlyphs">M-CSF</text>
<text x="465.6" y="100.0" font-size="5.8" font-weight="bold" text-anchor="start" fill="#000" textLength="23.3" lengthAdjust="spacingAndGlyphs">α4/α5β1+</text>
<text x="469.3" y="106.2" font-size="5.8" font-weight="bold" text-anchor="start" fill="#000" textLength="16.6" lengthAdjust="spacingAndGlyphs">M-CSF</text>
<text x="495.0" y="100.0" font-size="5.8" font-weight="bold" text-anchor="start" fill="#000" textLength="24.1" lengthAdjust="spacingAndGlyphs">VCAM-1+</text>
<text x="499.2" y="106.2" font-size="5.8" font-weight="bold" text-anchor="start" fill="#000" textLength="16.4" lengthAdjust="spacingAndGlyphs">M-CSF</text>
<rect x="487.5" y="23.6" width="4.3" height="4.2" fill="#fff" stroke="#333" stroke-width="0.7"/>
<text x="495.4" y="27.7" font-size="6.6" font-weight="bold" text-anchor="start" fill="#000" textLength="9.0" lengthAdjust="spacingAndGlyphs">WT</text>
<rect x="487.2" y="31.1" width="4.8" height="4.8" fill="#000"/>
<text x="495.4" y="35.3" font-size="6.4" font-weight="bold" font-style="italic" fill="#000" textLength="20.9" lengthAdjust="spacingAndGlyphs">p85<tspan>α-/-</tspan></text>
<line x1="24.4" y1="156.29999999999998" x2="24.4" y2="231.4" stroke="#000" stroke-width="0.6"/>
<line x1="22.799999999999997" y1="231.4" x2="24.4" y2="231.4" stroke="#000" stroke-width="0.6"/>
<text x="21.099999999999998" y="233.16400000000002" font-size="4.9" font-weight="bold" text-anchor="end" fill="#000">0</text>
<line x1="22.799999999999997" y1="220.71428571428572" x2="24.4" y2="220.71428571428572" stroke="#000" stroke-width="0.6"/>
<text x="21.099999999999998" y="222.47828571428573" font-size="4.9" font-weight="bold" text-anchor="end" fill="#000">0.1</text>
<line x1="22.799999999999997" y1="210.02857142857144" x2="24.4" y2="210.02857142857144" stroke="#000" stroke-width="0.6"/>
<text x="21.099999999999998" y="211.79257142857145" font-size="4.9" font-weight="bold" text-anchor="end" fill="#000">0.2</text>
<line x1="22.799999999999997" y1="199.34285714285716" x2="24.4" y2="199.34285714285716" stroke="#000" stroke-width="0.6"/>
<text x="21.099999999999998" y="201.10685714285717" font-size="4.9" font-weight="bold" text-anchor="end" fill="#000">0.3</text>
<line x1="22.799999999999997" y1="188.65714285714284" x2="24.4" y2="188.65714285714284" stroke="#000" stroke-width="0.6"/>
<text x="21.099999999999998" y="190.42114285714285" font-size="4.9" font-weight="bold" text-anchor="end" fill="#000">0.4</text>
<line x1="22.799999999999997" y1="177.97142857142856" x2="24.4" y2="177.97142857142856" stroke="#000" stroke-width="0.6"/>
<text x="21.099999999999998" y="179.73542857142857" font-size="4.9" font-weight="bold" text-anchor="end" fill="#000">0.5</text>
<line x1="22.799999999999997" y1="167.28571428571428" x2="24.4" y2="167.28571428571428" stroke="#000" stroke-width="0.6"/>
<text x="21.099999999999998" y="169.0497142857143" font-size="4.9" font-weight="bold" text-anchor="end" fill="#000">0.6</text>
<line x1="22.799999999999997" y1="156.59999999999997" x2="24.4" y2="156.59999999999997" stroke="#000" stroke-width="0.6"/>
<text x="21.099999999999998" y="158.36399999999998" font-size="4.9" font-weight="bold" text-anchor="end" fill="#000">0.7</text>
<line x1="24.4" y1="231.4" x2="128.3" y2="231.4" stroke="#000" stroke-width="0.7"/>
<rect x="26.4" y="178.0" width="5.600000000000001" height="53.400000000000006" fill="#fff" stroke="#4a4a4a" stroke-width="0.8"/>
<line x1="29.2" y1="178.0" x2="29.2" y2="191.0" stroke="#444" stroke-width="0.7"/>
<line x1="28.16" y1="191.0" x2="30.24" y2="191.0" stroke="#444" stroke-width="0.7"/>
<line x1="29.2" y1="164.7" x2="29.2" y2="178.0" stroke="#000" stroke-width="0.8"/>
<line x1="27.9" y1="164.7" x2="30.5" y2="164.7" stroke="#000" stroke-width="0.8"/>
<rect x="35.8" y="207.5" width="5.200000000000003" height="23.900000000000006" fill="#000"/>
<line x1="38.4" y1="203.0" x2="38.4" y2="207.5" stroke="#000" stroke-width="0.8"/>
<line x1="37.1" y1="203.0" x2="39.699999999999996" y2="203.0" stroke="#000" stroke-width="0.8"/>
<text x="38.4" y="201.21" font-size="6.2" font-weight="bold" text-anchor="middle" fill="#000">*</text>
<rect x="54.7" y="189.2" width="5.899999999999999" height="42.20000000000002" fill="#fff" stroke="#4a4a4a" stroke-width="0.8"/>
<line x1="57.650000000000006" y1="189.2" x2="57.650000000000006" y2="192.4" stroke="#444" stroke-width="0.7"/>
<line x1="56.61000000000001" y1="192.4" x2="58.690000000000005" y2="192.4" stroke="#444" stroke-width="0.7"/>
<line x1="57.650000000000006" y1="186.0" x2="57.650000000000006" y2="189.2" stroke="#000" stroke-width="0.8"/>
<line x1="56.35000000000001" y1="186.0" x2="58.95" y2="186.0" stroke="#000" stroke-width="0.8"/>
<rect x="64.8" y="214.0" width="5.299999999999997" height="17.400000000000006" fill="#000"/>
<line x1="67.44999999999999" y1="209.3" x2="67.44999999999999" y2="214.0" stroke="#000" stroke-width="0.8"/>
<line x1="66.14999999999999" y1="209.3" x2="68.74999999999999" y2="209.3" stroke="#000" stroke-width="0.8"/>
<text x="67.2" y="208.31" font-size="6.2" font-weight="bold" text-anchor="middle" fill="#000">*</text>
<rect x="83.6" y="185.5" width="5.0" height="45.900000000000006" fill="#fff" stroke="#4a4a4a" stroke-width="0.8"/>
<line x1="86.1" y1="185.5" x2="86.1" y2="196.0" stroke="#444" stroke-width="0.7"/>
<line x1="85.05999999999999" y1="196.0" x2="87.14" y2="196.0" stroke="#444" stroke-width="0.7"/>
<line x1="86.1" y1="174.9" x2="86.1" y2="185.5" stroke="#000" stroke-width="0.8"/>
<line x1="84.8" y1="174.9" x2="87.39999999999999" y2="174.9" stroke="#000" stroke-width="0.8"/>
<rect x="93.2" y="213.2" width="5.0" height="18.200000000000017" fill="#000"/>
<line x1="95.7" y1="210.4" x2="95.7" y2="213.2" stroke="#000" stroke-width="0.8"/>
<line x1="94.4" y1="210.4" x2="97.0" y2="210.4" stroke="#000" stroke-width="0.8"/>
<text x="95.6" y="208.41" font-size="6.2" font-weight="bold" text-anchor="middle" fill="#000">*</text>
<rect x="112.3" y="175.2" width="5.5" height="56.20000000000002" fill="#fff" stroke="#4a4a4a" stroke-width="0.8"/>
<line x1="115.05" y1="175.2" x2="115.05" y2="188.0" stroke="#444" stroke-width="0.7"/>
<line x1="114.00999999999999" y1="188.0" x2="116.09" y2="188.0" stroke="#444" stroke-width="0.7"/>
<line x1="115.05" y1="161.6" x2="115.05" y2="175.2" stroke="#000" stroke-width="0.8"/>
<line x1="113.75" y1="161.6" x2="116.35" y2="161.6" stroke="#000" stroke-width="0.8"/>
<rect x="121.5" y="212.6" width="5.5" height="18.80000000000001" fill="#000"/>
<line x1="124.25" y1="211.4" x2="124.25" y2="212.6" stroke="#000" stroke-width="0.8"/>
<line x1="122.95" y1="211.4" x2="125.55" y2="211.4" stroke="#000" stroke-width="0.8"/>
<text x="124.1" y="209.41" font-size="6.2" font-weight="bold" text-anchor="middle" fill="#000">*</text>
<text x="65.5" y="162.0" font-size="9.3" font-weight="bold" text-anchor="start" fill="#000" textLength="28.7" lengthAdjust="spacingAndGlyphs">15 min</text>
<text x="27.1" y="239.4" font-size="6.0" font-weight="bold" text-anchor="start" fill="#000" textLength="12.1" lengthAdjust="spacingAndGlyphs">α5β1</text>
<text x="56.2" y="239.4" font-size="6.0" font-weight="bold" text-anchor="start" fill="#000" textLength="13.6" lengthAdjust="spacingAndGlyphs">α4β1</text>
<text x="79.9" y="239.4" font-size="6.0" font-weight="bold" text-anchor="start" fill="#000" textLength="21.7" lengthAdjust="spacingAndGlyphs">α4/α5β1</text>
<text x="108.2" y="239.4" font-size="6.0" font-weight="bold" text-anchor="start" fill="#000" textLength="21.0" lengthAdjust="spacingAndGlyphs">VCAM-1</text>
<line x1="149.5" y1="156.2" x2="149.5" y2="231.4" stroke="#000" stroke-width="0.6"/>
<line x1="147.9" y1="231.4" x2="149.5" y2="231.4" stroke="#000" stroke-width="0.6"/>
<text x="146.2" y="233.16400000000002" font-size="4.9" font-weight="bold" text-anchor="end" fill="#000">0</text>
<line x1="147.9" y1="218.91666666666669" x2="149.5" y2="218.91666666666669" stroke="#000" stroke-width="0.6"/>
<text x="146.2" y="220.6806666666667" font-size="4.9" font-weight="bold" text-anchor="end" fill="#000">0.1</text>
<line x1="147.9" y1="206.43333333333334" x2="149.5" y2="206.43333333333334" stroke="#000" stroke-width="0.6"/>
<text x="146.2" y="208.19733333333335" font-size="4.9" font-weight="bold" text-anchor="end" fill="#000">0.2</text>
<line x1="147.9" y1="193.95" x2="149.5" y2="193.95" stroke="#000" stroke-width="0.6"/>
<text x="146.2" y="195.714" font-size="4.9" font-weight="bold" text-anchor="end" fill="#000">0.3</text>
<line x1="147.9" y1="181.46666666666667" x2="149.5" y2="181.46666666666667" stroke="#000" stroke-width="0.6"/>
<text x="146.2" y="183.23066666666668" font-size="4.9" font-weight="bold" text-anchor="end" fill="#000">0.4</text>
<line x1="147.9" y1="168.98333333333335" x2="149.5" y2="168.98333333333335" stroke="#000" stroke-width="0.6"/>
<text x="146.2" y="170.74733333333336" font-size="4.9" font-weight="bold" text-anchor="end" fill="#000">0.5</text>
<line x1="147.9" y1="156.5" x2="149.5" y2="156.5" stroke="#000" stroke-width="0.6"/>
<text x="146.2" y="158.264" font-size="4.9" font-weight="bold" text-anchor="end" fill="#000">0.6</text>
<line x1="149.5" y1="231.4" x2="255.3" y2="231.4" stroke="#000" stroke-width="0.7"/>
<rect x="152.0" y="179.3" width="5.699999999999989" height="52.099999999999994" fill="#fff" stroke="#4a4a4a" stroke-width="0.8"/>
<line x1="154.85" y1="179.3" x2="154.85" y2="185.0" stroke="#444" stroke-width="0.7"/>
<line x1="153.81" y1="185.0" x2="155.89" y2="185.0" stroke="#444" stroke-width="0.7"/>
<line x1="154.85" y1="173.7" x2="154.85" y2="179.3" stroke="#000" stroke-width="0.8"/>
<line x1="153.54999999999998" y1="173.7" x2="156.15" y2="173.7" stroke="#000" stroke-width="0.8"/>
<rect x="161.5" y="211.5" width="5.099999999999994" height="19.900000000000006" fill="#000"/>
<line x1="164.05" y1="210.3" x2="164.05" y2="211.5" stroke="#000" stroke-width="0.8"/>
<line x1="162.75" y1="210.3" x2="165.35000000000002" y2="210.3" stroke="#000" stroke-width="0.8"/>
<text x="164.2" y="207.81" font-size="6.2" font-weight="bold" text-anchor="middle" fill="#000">*</text>
<rect x="181.2" y="175.2" width="5.400000000000006" height="56.20000000000002" fill="#fff" stroke="#4a4a4a" stroke-width="0.8"/>
<line x1="183.89999999999998" y1="175.2" x2="183.89999999999998" y2="179.5" stroke="#444" stroke-width="0.7"/>
<line x1="182.85999999999999" y1="179.5" x2="184.93999999999997" y2="179.5" stroke="#444" stroke-width="0.7"/>
<line x1="183.89999999999998" y1="171.0" x2="183.89999999999998" y2="175.2" stroke="#000" stroke-width="0.8"/>
<line x1="182.59999999999997" y1="171.0" x2="185.2" y2="171.0" stroke="#000" stroke-width="0.8"/>
<rect x="190.1" y="215.9" width="5.900000000000006" height="15.5" fill="#000"/>
<line x1="193.05" y1="215.0" x2="193.05" y2="215.9" stroke="#000" stroke-width="0.8"/>
<line x1="191.75" y1="215.0" x2="194.35000000000002" y2="215.0" stroke="#000" stroke-width="0.8"/>
<text x="193.2" y="212.91" font-size="6.2" font-weight="bold" text-anchor="middle" fill="#000">*</text>
<rect x="209.1" y="178.8" width="5.599999999999994" height="52.599999999999994" fill="#fff" stroke="#4a4a4a" stroke-width="0.8"/>
<line x1="211.89999999999998" y1="178.8" x2="211.89999999999998" y2="185.0" stroke="#444" stroke-width="0.7"/>
<line x1="210.85999999999999" y1="185.0" x2="212.93999999999997" y2="185.0" stroke="#444" stroke-width="0.7"/>
<line x1="211.89999999999998" y1="172.7" x2="211.89999999999998" y2="178.8" stroke="#000" stroke-width="0.8"/>
<line x1="210.59999999999997" y1="172.7" x2="213.2" y2="172.7" stroke="#000" stroke-width="0.8"/>
<rect x="219.3" y="211.0" width="5.5" height="20.400000000000006" fill="#000"/>
<line x1="222.05" y1="205.0" x2="222.05" y2="211.0" stroke="#000" stroke-width="0.8"/>
<line x1="220.75" y1="205.0" x2="223.35000000000002" y2="205.0" stroke="#000" stroke-width="0.8"/>
<text x="221.9" y="202.71" font-size="6.2" font-weight="bold" text-anchor="middle" fill="#000">*</text>
<rect x="238.3" y="184.0" width="5.199999999999989" height="47.400000000000006" fill="#fff" stroke="#4a4a4a" stroke-width="0.8"/>
<line x1="240.9" y1="184.0" x2="240.9" y2="194.5" stroke="#444" stroke-width="0.7"/>
<line x1="239.86" y1="194.5" x2="241.94" y2="194.5" stroke="#444" stroke-width="0.7"/>
<line x1="240.9" y1="173.7" x2="240.9" y2="184.0" stroke="#000" stroke-width="0.8"/>
<line x1="239.6" y1="173.7" x2="242.20000000000002" y2="173.7" stroke="#000" stroke-width="0.8"/>
<rect x="247.7" y="204.5" width="5.800000000000011" height="26.900000000000006" fill="#000"/>
<line x1="250.6" y1="199.5" x2="250.6" y2="204.5" stroke="#000" stroke-width="0.8"/>
<line x1="249.29999999999998" y1="199.5" x2="251.9" y2="199.5" stroke="#000" stroke-width="0.8"/>
<text x="250.5" y="197.71" font-size="6.2" font-weight="bold" text-anchor="middle" fill="#000">*</text>
<text x="185.1" y="162.0" font-size="9.3" font-weight="bold" text-anchor="start" fill="#000" textLength="29.0" lengthAdjust="spacingAndGlyphs">30 min</text>
<text x="151.6" y="239.4" font-size="6.0" font-weight="bold" text-anchor="start" fill="#000" textLength="13.2" lengthAdjust="spacingAndGlyphs">α5β1</text>
<text x="181.2" y="239.4" font-size="6.0" font-weight="bold" text-anchor="start" fill="#000" textLength="14.8" lengthAdjust="spacingAndGlyphs">α4β1</text>
<text x="204.9" y="239.4" font-size="6.0" font-weight="bold" text-anchor="start" fill="#000" textLength="23.2" lengthAdjust="spacingAndGlyphs">α4/α5β1</text>
<text x="234.7" y="239.4" font-size="6.0" font-weight="bold" text-anchor="start" fill="#000" textLength="22.1" lengthAdjust="spacingAndGlyphs">VCAM-1</text>
<line x1="283.6" y1="154.5" x2="283.6" y2="231.4" stroke="#000" stroke-width="0.6"/>
<line x1="282.0" y1="231.4" x2="283.6" y2="231.4" stroke="#000" stroke-width="0.6"/>
<text x="280.3" y="233.16400000000002" font-size="4.9" font-weight="bold" text-anchor="end" fill="#000">0</text>
<line x1="282.0" y1="212.25" x2="283.6" y2="212.25" stroke="#000" stroke-width="0.6"/>
<text x="280.3" y="214.014" font-size="4.9" font-weight="bold" text-anchor="end" fill="#000">0.2</text>
<line x1="282.0" y1="193.10000000000002" x2="283.6" y2="193.10000000000002" stroke="#000" stroke-width="0.6"/>
<text x="280.3" y="194.86400000000003" font-size="4.9" font-weight="bold" text-anchor="end" fill="#000">0.4</text>
<line x1="282.0" y1="173.95000000000002" x2="283.6" y2="173.95000000000002" stroke="#000" stroke-width="0.6"/>
<text x="280.3" y="175.71400000000003" font-size="4.9" font-weight="bold" text-anchor="end" fill="#000">0.6</text>
<line x1="282.0" y1="154.8" x2="283.6" y2="154.8" stroke="#000" stroke-width="0.6"/>
<text x="280.3" y="156.56400000000002" font-size="4.9" font-weight="bold" text-anchor="end" fill="#000">0.8</text>
<line x1="283.6" y1="231.4" x2="392.0" y2="231.4" stroke="#000" stroke-width="0.7"/>
<rect x="285.5" y="179.2" width="5.5" height="52.20000000000002" fill="#fff" stroke="#4a4a4a" stroke-width="0.8"/>
<line x1="288.25" y1="179.2" x2="288.25" y2="192.5" stroke="#444" stroke-width="0.7"/>
<line x1="287.21" y1="192.5" x2="289.29" y2="192.5" stroke="#444" stroke-width="0.7"/>
<line x1="288.25" y1="166.1" x2="288.25" y2="179.2" stroke="#000" stroke-width="0.8"/>
<line x1="286.95" y1="166.1" x2="289.55" y2="166.1" stroke="#000" stroke-width="0.8"/>
<rect x="295.6" y="211.0" width="5.2999999999999545" height="20.400000000000006" fill="#000"/>
<line x1="298.25" y1="208.4" x2="298.25" y2="211.0" stroke="#000" stroke-width="0.8"/>
<line x1="296.95" y1="208.4" x2="299.55" y2="208.4" stroke="#000" stroke-width="0.8"/>
<text x="298.2" y="206.71" font-size="6.2" font-weight="bold" text-anchor="middle" fill="#000">*</text>
<rect x="315.2" y="182.4" width="5.5" height="49.0" fill="#fff" stroke="#4a4a4a" stroke-width="0.8"/>
<line x1="317.95" y1="182.4" x2="317.95" y2="184.5" stroke="#444" stroke-width="0.7"/>
<line x1="316.90999999999997" y1="184.5" x2="318.99" y2="184.5" stroke="#444" stroke-width="0.7"/>
<line x1="317.95" y1="180.3" x2="317.95" y2="182.4" stroke="#000" stroke-width="0.8"/>
<line x1="316.65" y1="180.3" x2="319.25" y2="180.3" stroke="#000" stroke-width="0.8"/>
<rect x="325.4" y="213.2" width="5.7000000000000455" height="18.200000000000017" fill="#000"/>
<line x1="328.25" y1="212.5" x2="328.25" y2="213.2" stroke="#000" stroke-width="0.8"/>
<line x1="326.95" y1="212.5" x2="329.55" y2="212.5" stroke="#000" stroke-width="0.8"/>
<text x="327.8" y="210.71" font-size="6.2" font-weight="bold" text-anchor="middle" fill="#000">*</text>
<rect x="345.3" y="190.0" width="5.199999999999989" height="41.400000000000006" fill="#fff" stroke="#4a4a4a" stroke-width="0.8"/>
<line x1="347.9" y1="190.0" x2="347.9" y2="191.4" stroke="#444" stroke-width="0.7"/>
<line x1="346.85999999999996" y1="191.4" x2="348.94" y2="191.4" stroke="#444" stroke-width="0.7"/>
<line x1="347.9" y1="188.6" x2="347.9" y2="190.0" stroke="#000" stroke-width="0.8"/>
<line x1="346.59999999999997" y1="188.6" x2="349.2" y2="188.6" stroke="#000" stroke-width="0.8"/>
<rect x="354.8" y="212.1" width="5.5" height="19.30000000000001" fill="#000"/>
<line x1="357.55" y1="210.4" x2="357.55" y2="212.1" stroke="#000" stroke-width="0.8"/>
<line x1="356.25" y1="210.4" x2="358.85" y2="210.4" stroke="#000" stroke-width="0.8"/>
<text x="357.7" y="208.41" font-size="6.2" font-weight="bold" text-anchor="middle" fill="#000">*</text>
<rect x="376.7" y="185.2" width="5.100000000000023" height="46.20000000000002" fill="#fff" stroke="#4a4a4a" stroke-width="0.8"/>
<line x1="379.25" y1="185.2" x2="379.25" y2="189.8" stroke="#444" stroke-width="0.7"/>
<line x1="378.21" y1="189.8" x2="380.29" y2="189.8" stroke="#444" stroke-width="0.7"/>
<line x1="379.25" y1="180.6" x2="379.25" y2="185.2" stroke="#000" stroke-width="0.8"/>
<line x1="377.95" y1="180.6" x2="380.55" y2="180.6" stroke="#000" stroke-width="0.8"/>
<rect x="384.8" y="209.4" width="6.099999999999966" height="22.0" fill="#000"/>
<line x1="387.85" y1="206.4" x2="387.85" y2="209.4" stroke="#000" stroke-width="0.8"/>
<line x1="386.55" y1="206.4" x2="389.15000000000003" y2="206.4" stroke="#000" stroke-width="0.8"/>
<text x="387.9" y="203.71" font-size="6.2" font-weight="bold" text-anchor="middle" fill="#000">*</text>
<text x="324.5" y="165.9" font-size="9.3" font-weight="bold" text-anchor="start" fill="#000" textLength="27.2" lengthAdjust="spacingAndGlyphs">1 hour</text>
<text x="286.0" y="239.4" font-size="6.0" font-weight="bold" text-anchor="start" fill="#000" textLength="13.3" lengthAdjust="spacingAndGlyphs">α5β1</text>
<text x="316.5" y="239.4" font-size="6.0" font-weight="bold" text-anchor="start" fill="#000" textLength="12.9" lengthAdjust="spacingAndGlyphs">α4β1</text>
<text x="341.5" y="239.4" font-size="6.0" font-weight="bold" text-anchor="start" fill="#000" textLength="22.2" lengthAdjust="spacingAndGlyphs">α4/α5β1</text>
<text x="370.6" y="239.4" font-size="6.0" font-weight="bold" text-anchor="start" fill="#000" textLength="21.2" lengthAdjust="spacingAndGlyphs">VCAM-1</text>
<line x1="408.6" y1="154.29999999999998" x2="408.6" y2="231.4" stroke="#000" stroke-width="0.6"/>
<line x1="407.0" y1="231.4" x2="408.6" y2="231.4" stroke="#000" stroke-width="0.6"/>
<text x="405.3" y="233.16400000000002" font-size="4.9" font-weight="bold" text-anchor="end" fill="#000">0</text>
<line x1="407.0" y1="216.04" x2="408.6" y2="216.04" stroke="#000" stroke-width="0.6"/>
<text x="405.3" y="217.804" font-size="4.9" font-weight="bold" text-anchor="end" fill="#000">0.2</text>
<line x1="407.0" y1="200.68" x2="408.6" y2="200.68" stroke="#000" stroke-width="0.6"/>
<text x="405.3" y="202.44400000000002" font-size="4.9" font-weight="bold" text-anchor="end" fill="#000">0.4</text>
<line x1="407.0" y1="185.32" x2="408.6" y2="185.32" stroke="#000" stroke-width="0.6"/>
<text x="405.3" y="187.084" font-size="4.9" font-weight="bold" text-anchor="end" fill="#000">0.6</text>
<line x1="407.0" y1="169.95999999999998" x2="408.6" y2="169.95999999999998" stroke="#000" stroke-width="0.6"/>
<text x="405.3" y="171.724" font-size="4.9" font-weight="bold" text-anchor="end" fill="#000">0.8</text>
<line x1="407.0" y1="154.6" x2="408.6" y2="154.6" stroke="#000" stroke-width="0.6"/>
<text x="405.3" y="156.364" font-size="4.9" font-weight="bold" text-anchor="end" fill="#000">1</text>
<line x1="408.6" y1="231.4" x2="517.0" y2="231.4" stroke="#000" stroke-width="0.7"/>
<rect x="411.0" y="173.2" width="5.399999999999977" height="58.20000000000002" fill="#fff" stroke="#4a4a4a" stroke-width="0.8"/>
<line x1="413.7" y1="173.2" x2="413.7" y2="186.7" stroke="#444" stroke-width="0.7"/>
<line x1="412.65999999999997" y1="186.7" x2="414.74" y2="186.7" stroke="#444" stroke-width="0.7"/>
<line x1="413.7" y1="160.4" x2="413.7" y2="173.2" stroke="#000" stroke-width="0.8"/>
<line x1="412.4" y1="160.4" x2="415.0" y2="160.4" stroke="#000" stroke-width="0.8"/>
<rect x="421.0" y="202.8" width="5.100000000000023" height="28.599999999999994" fill="#000"/>
<line x1="423.55" y1="197.1" x2="423.55" y2="202.8" stroke="#000" stroke-width="0.8"/>
<line x1="422.25" y1="197.1" x2="424.85" y2="197.1" stroke="#000" stroke-width="0.8"/>
<text x="423.5" y="195.91" font-size="6.2" font-weight="bold" text-anchor="middle" fill="#000">*</text>
<rect x="440.8" y="184.7" width="5.699999999999989" height="46.70000000000002" fill="#fff" stroke="#4a4a4a" stroke-width="0.8"/>
<line x1="443.65" y1="184.7" x2="443.65" y2="192.5" stroke="#444" stroke-width="0.7"/>
<line x1="442.60999999999996" y1="192.5" x2="444.69" y2="192.5" stroke="#444" stroke-width="0.7"/>
<line x1="443.65" y1="176.9" x2="443.65" y2="184.7" stroke="#000" stroke-width="0.8"/>
<line x1="442.34999999999997" y1="176.9" x2="444.95" y2="176.9" stroke="#000" stroke-width="0.8"/>
<rect x="451.0" y="206.6" width="5.5" height="24.80000000000001" fill="#000"/>
<line x1="453.75" y1="202.8" x2="453.75" y2="206.6" stroke="#000" stroke-width="0.8"/>
<line x1="452.45" y1="202.8" x2="455.05" y2="202.8" stroke="#000" stroke-width="0.8"/>
<text x="453.6" y="201.21" font-size="6.2" font-weight="bold" text-anchor="middle" fill="#000">*</text>
<rect x="470.5" y="181.8" width="5.699999999999989" height="49.599999999999994" fill="#fff" stroke="#4a4a4a" stroke-width="0.8"/>
<line x1="473.35" y1="181.8" x2="473.35" y2="190.4" stroke="#444" stroke-width="0.7"/>
<line x1="472.31" y1="190.4" x2="474.39000000000004" y2="190.4" stroke="#444" stroke-width="0.7"/>
<line x1="473.35" y1="173.2" x2="473.35" y2="181.8" stroke="#000" stroke-width="0.8"/>
<line x1="472.05" y1="173.2" x2="474.65000000000003" y2="173.2" stroke="#000" stroke-width="0.8"/>
<rect x="480.4" y="197.0" width="5.900000000000034" height="34.400000000000006" fill="#000"/>
<line x1="483.35" y1="192.0" x2="483.35" y2="197.0" stroke="#000" stroke-width="0.8"/>
<line x1="482.05" y1="192.0" x2="484.65000000000003" y2="192.0" stroke="#000" stroke-width="0.8"/>
<text x="483.4" y="189.60999999999999" font-size="6.2" font-weight="bold" text-anchor="middle" fill="#000">*</text>
<rect x="500.2" y="194.4" width="6.400000000000034" height="37.0" fill="#fff" stroke="#4a4a4a" stroke-width="0.8"/>
<line x1="503.4" y1="194.4" x2="503.4" y2="197.4" stroke="#444" stroke-width="0.7"/>
<line x1="502.35999999999996" y1="197.4" x2="504.44" y2="197.4" stroke="#444" stroke-width="0.7"/>
<line x1="503.4" y1="190.7" x2="503.4" y2="194.4" stroke="#000" stroke-width="0.8"/>
<line x1="502.09999999999997" y1="190.7" x2="504.7" y2="190.7" stroke="#000" stroke-width="0.8"/>
<rect x="510.8" y="214.2" width="5.800000000000011" height="17.200000000000017" fill="#000"/>
<line x1="513.7" y1="207.9" x2="513.7" y2="214.2" stroke="#000" stroke-width="0.8"/>
<line x1="512.4000000000001" y1="207.9" x2="515.0" y2="207.9" stroke="#000" stroke-width="0.8"/>
<text x="513.3" y="205.51" font-size="6.2" font-weight="bold" text-anchor="middle" fill="#000">*</text>
<text x="441.7" y="165.9" font-size="9.3" font-weight="bold" text-anchor="start" fill="#000" textLength="32.5" lengthAdjust="spacingAndGlyphs">4 hours</text>
<text x="411.0" y="239.4" font-size="6.0" font-weight="bold" text-anchor="start" fill="#000" textLength="12.2" lengthAdjust="spacingAndGlyphs">α5β1</text>
<text x="440.5" y="239.4" font-size="6.0" font-weight="bold" text-anchor="start" fill="#000" textLength="15.5" lengthAdjust="spacingAndGlyphs">α4β1</text>
<text x="467.1" y="239.4" font-size="6.0" font-weight="bold" text-anchor="start" fill="#000" textLength="22.1" lengthAdjust="spacingAndGlyphs">α4/α5β1</text>
<text x="496.7" y="239.4" font-size="6.0" font-weight="bold" text-anchor="start" fill="#000" textLength="23.0" lengthAdjust="spacingAndGlyphs">VCAM-1</text>
<rect x="218.6" y="141.8" width="6.4" height="6.0" fill="#fff" stroke="#000" stroke-width="0.8"/>
<text x="229.6" y="147.8" font-size="9.3" font-weight="bold" text-anchor="start" fill="#000" textLength="13.5" lengthAdjust="spacingAndGlyphs">WT</text>
<rect x="218.3" y="152.6" width="7" height="6.9" fill="#000"/>
<text x="229.4" y="158.3" font-size="8.6" font-weight="bold" font-style="italic" fill="#000" textLength="30.2" lengthAdjust="spacingAndGlyphs">p85<tspan>α-/-</tspan></text>
<text x="5.9" y="193.0" font-size="5.4" font-weight="bold" text-anchor="middle" transform="rotate(-90 5.9 193.0)" textLength="76.5" lengthAdjust="spacingAndGlyphs" style="stroke-width:0.1px">Optical density at 600nm</text>
</svg></body></html>
